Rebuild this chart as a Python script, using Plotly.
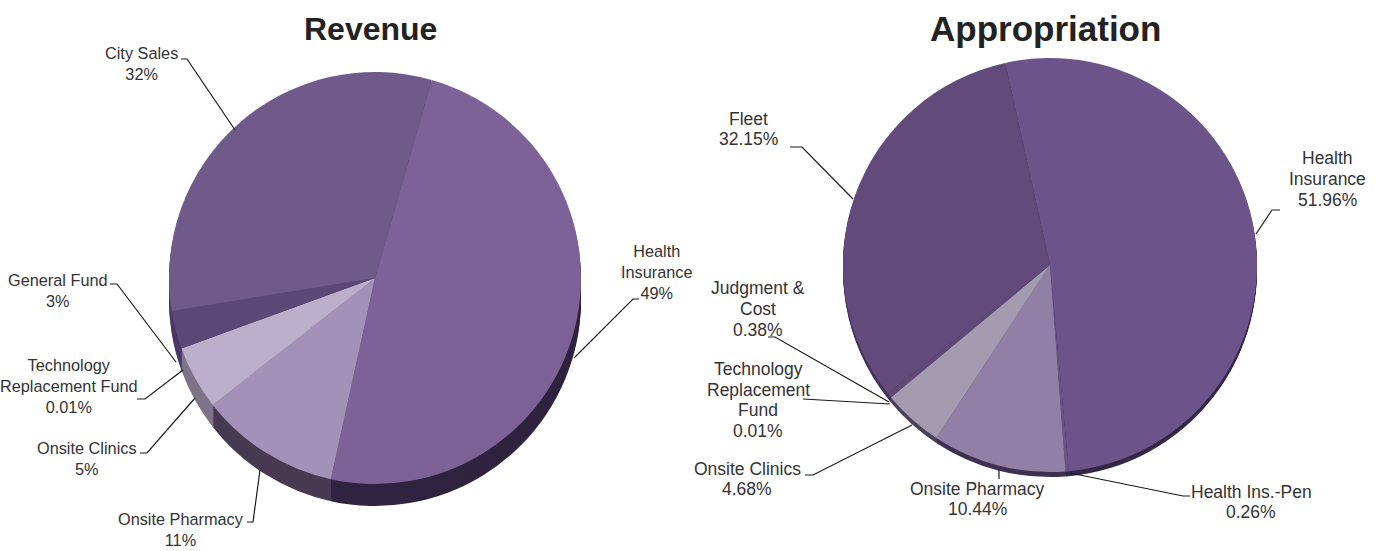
import plotly.graph_objects as go

W, H = 1385, 551

# ---- data ----
rev_names = ["Health Insurance", "Onsite Pharmacy", "Onsite Clinics", "Technology Replacement Fund", "General Fund", "City Sales"]
rev_values = [49, 11, 5, 0.01, 3, 32]
app_names = ["Health Insurance", "Health Ins.-Pen", "Onsite Pharmacy", "Onsite Clinics", "Technology Replacement Fund", "Judgment & Cost", "Fleet"]
app_values = [51.96, 0.26, 10.44, 4.68, 0.01, 0.38, 32.15]

# ---- styles ----
rev_top = ["#7d6298", "#a391b8", "#bbafcb", "#8f7fa5", "#5b4876", "#705a8a"]
rev_side = ["#30233f", "#473a52", "#7f7389", "#5a4c6a", "#4a3866", "#4f3f66"]
app_top = ["#6c548a", "#6c548a", "#917fa6", "#a59bb1", "#8f7fa5", "#614a78", "#624b7a"]
app_side = ["#352745", "#352745", "#3e3150", "#4d4358", "#4d4358", "#43345a", "#43345a"]

TEXT = "#333333"
FONT = "Liberation Sans"

rev_labels = [
    ("City Sales<br>32%", 141, 64), ("General Fund<br>3%", 58, 290),
    ("Technology<br>Replacement Fund<br>0.01%", 69, 386), ("Onsite Clinics<br>5%", 87, 458),
    ("Onsite Pharmacy<br>11%", 181, 529), ("Health<br>Insurance<br>49%", 657, 272),
]
app_labels = [
    ("Fleet<br>32.15%", 748, 129), ("Health<br>Insurance<br>51.96%", 1327, 179),
    ("Judgment &<br>Cost<br>0.38%", 758, 309), ("Technology<br>Replacement<br>Fund<br>0.01%", 758, 400),
    ("Onsite Clinics<br>4.68%", 747, 479), ("Onsite Pharmacy<br>10.44%", 977, 499),
    ("Health Ins.-Pen<br>0.26%", 1251, 502),
]
leaders = [
    [(181, 59), (187, 59), (235, 130)],
    [(110, 284), (117, 284), (176, 362)],
    [(137, 399), (145, 399), (183, 370)],
    [(140, 453), (147, 453), (195, 398)],
    [(247, 522), (253, 522), (260, 470)],
    [(639, 299), (633, 299), (574, 358)],
    [(790, 147), (802, 147), (853, 199)],
    [(1280, 210), (1272, 210), (1256, 234)],
    [(768, 337), (775, 337), (889, 402)],
    [(803, 399), (890, 404)],
    [(805, 475), (813, 475), (912, 425)],
    [(999, 470), (999, 479)],
    [(1190, 496), (1183, 496), (1070, 473)],
]


def px(x):
    return x / W


def py(y):
    return 1 - y / H


def dom(cx, cy, r):
    return dict(x=[px(cx - r), px(cx + r)], y=[py(cy + r), py(cy - r)])


def pie(names, values, colors, cx, cy, r, rotation):
    return go.Pie(
        labels=names, values=values, sort=False, direction="clockwise", rotation=rotation,
        domain=dom(cx, cy, r), textinfo="none", showlegend=False, hoverinfo="label+percent",
        marker=dict(colors=colors, line=dict(width=0)),
    )


fig = go.Figure()
for d in range(22, 0, -2):
    fig.add_trace(pie(rev_names, rev_values, rev_side, 375, 278 + d, 206, 16))
fig.add_trace(pie(rev_names, rev_values, rev_top, 375, 278, 206, 16))
for d in (5, 4, 3, 2, 1):
    fig.add_trace(pie(app_names, app_values, app_side, 1050, 265 + d, 207, -12.5))
fig.add_trace(pie(app_names, app_values, app_top, 1050, 265, 207, -12.5))

ann = [
    dict(text="<b>Revenue</b>", x=px(370), y=py(29), font=dict(size=32, color="#222222", family=FONT)),
    dict(text="<b>Appropriation</b>", x=px(1045), y=py(29), font=dict(size=35, color="#222222", family=FONT)),
]
for t, x, y in rev_labels:
    ann.append(dict(text=t, x=px(x), y=py(y), font=dict(size=16.3, color=TEXT, family=FONT)))
LINE_STEP = 20.7
for t, x, y in app_labels:
    lines = t.split("<br>")
    for i, line in enumerate(lines):
        ly = y + (i - (len(lines) - 1) / 2) * LINE_STEP
        ann.append(dict(text=line, x=px(x), y=py(ly), font=dict(size=17.5, color=TEXT, family=FONT)))
for a in ann:
    a.update(xref="paper", yref="paper", xanchor="center", yanchor="middle", showarrow=False, align="center")

shapes = []
for pts in leaders:
    path = "M " + " L ".join(f"{px(x):.5f} {py(y):.5f}" for x, y in pts)
    shapes.append(dict(type="path", xref="paper", yref="paper", path=path, line=dict(color="#1a1a1a", width=1.2)))

fig.update_layout(
    width=W, height=H, autosize=False, margin=dict(l=0, r=0, t=0, b=0),
    paper_bgcolor="white", plot_bgcolor="white", annotations=ann, shapes=shapes,
)
fig.write_html("out.html", post_script="document.body.style.margin='0';", config={"displayModeBar": False})
